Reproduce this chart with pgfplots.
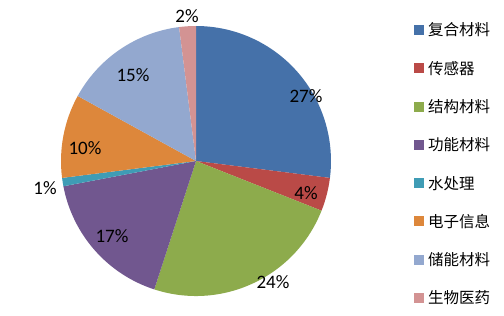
\documentclass[border=0pt]{standalone}
\usepackage{pgfplots}
\usepackage{pgfplotstable}
\pgfplotsset{compat=1.18}
\usepackage{fontspec}
\setmainfont{Carlito}
\newfontfamily\cjk{Noto Sans CJK SC}
\definecolor{c0}{HTML}{4571A9}
\definecolor{c1}{HTML}{BA4A47}
\definecolor{c2}{HTML}{8DAB4C}
\definecolor{c3}{HTML}{71578F}
\definecolor{c4}{HTML}{3F9CB5}
\definecolor{c5}{HTML}{DD873B}
\definecolor{c6}{HTML}{93A8CF}
\definecolor{c7}{HTML}{D39393}
\pgfplotstableread{
v lx ly name
27 306 220 复合材料
4 306 123 传感器
24 273 34 结构材料
17 112 80 功能材料
1 45 128 水处理
10 85 168 电子信息
15 133 241 储能材料
2 187 300 生物医药
}\piedata
\begin{document}
\begin{tikzpicture}
\begin{axis}[x=1pt,y=1pt,xmin=0,xmax=504,ymin=0,ymax=316,hide axis,clip=false,scale only axis]
\path (axis cs:0,0) rectangle (axis cs:504,316);
\def\cum{0}
\pgfplotsforeachungrouped \i in {0,...,7}{%
  \pgfplotstablegetelem{\i}{v}\of\piedata
  \let\val\pgfplotsretval
  \pgfplotstablegetelem{\i}{lx}\of\piedata
  \let\lx\pgfplotsretval
  \pgfplotstablegetelem{\i}{ly}\of\piedata
  \let\ly\pgfplotsretval
  \pgfplotstablegetelem{\i}{name}\of\piedata
  \let\nm\pgfplotsretval
  \pgfmathsetmacro\sa{90-3.6*\cum}%
  \pgfmathsetmacro\ea{90-3.6*(\cum+\val)}%
  \pgfmathsetmacro\cum{\cum+\val}%
  \pgfmathsetmacro\ly{\ly}%
  \pgfmathsetmacro\legy{316-30-38.3*\i}%
  \edef\temp{%
    \noexpand\fill[c\i] (axis cs:196,155) -- ++(\sa:135pt) arc[start angle=\sa, end angle=\ea, radius=135pt] -- cycle;
    \noexpand\node[inner sep=0pt,font=\noexpand\fontsize{19}{19}\noexpand\selectfont] at (axis cs:\lx,\ly) {\val\noexpand\%};
    \noexpand\fill[c\i] (axis cs:414,\legy-5) rectangle (axis cs:424,\legy+5);
    \noexpand\node[inner sep=0pt,anchor=west,font=\noexpand\cjk\noexpand\fontsize{15.5}{15.5}\noexpand\selectfont] at (axis cs:428,\legy) {\nm};
  }%
  \temp
}
\end{axis}
\end{tikzpicture}
\end{document}
